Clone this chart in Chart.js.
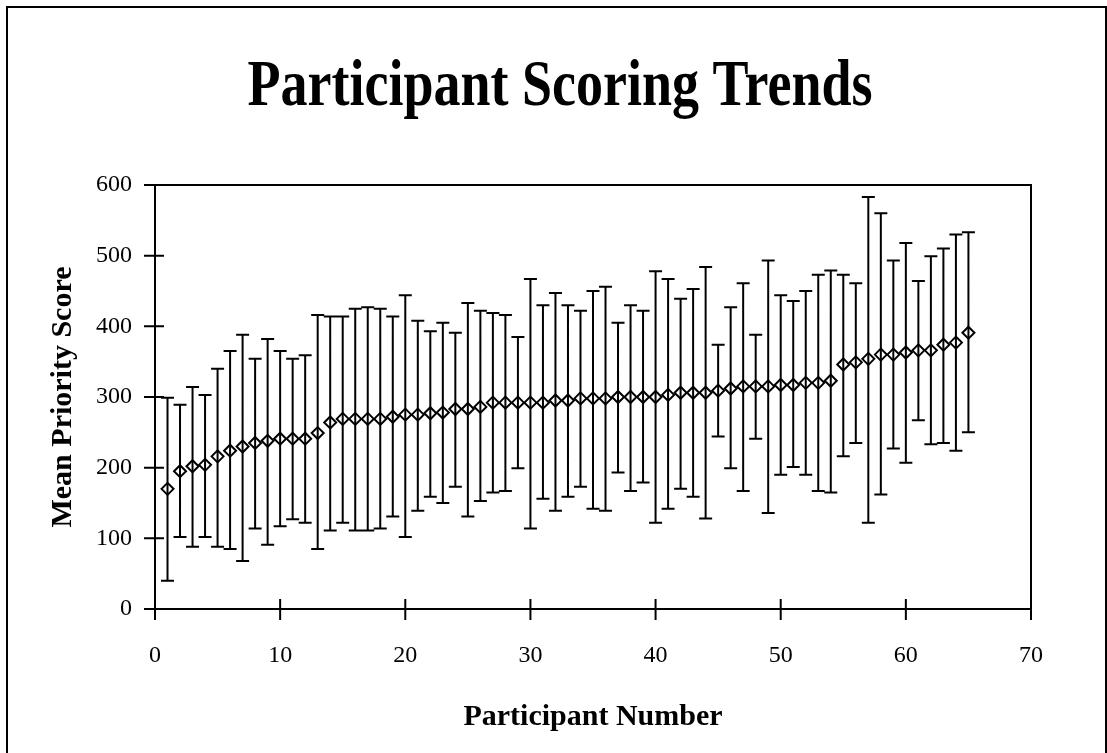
<!DOCTYPE html>
<html>
<head>
<meta charset="utf-8">
<script src="https://cdn.jsdelivr.net/npm/chart.js@4/dist/chart.umd.min.js"></script>
<style>
  html, body { margin: 0; padding: 0; background: #fff; }
  canvas { display: block; }
</style>
</head>
<body>
<canvas id="chart" width="1107" height="753"></canvas>
<script>
// Participant numbers and their mean priority score with the spread shown as error bars
const participants = [
  1, 2, 3, 4, 5, 6, 7, 8, 9, 10,
  11, 12, 13, 14, 15, 16, 17, 18, 19, 20,
  21, 22, 23, 24, 25, 26, 27, 28, 29, 30,
  31, 32, 33, 34, 35, 36, 37, 38, 39, 40,
  41, 42, 43, 44, 45, 46, 47, 48, 49, 50,
  51, 52, 53, 54, 55, 56, 57, 58, 59, 60,
  61, 62, 63, 64, 65
];
const meanScores = [
  170, 195, 202, 204, 216, 224, 230, 235, 238, 241,
  241, 241, 249, 264, 269, 269, 269, 269, 272, 275,
  275, 277, 278, 283, 283, 286, 292, 292, 292, 292,
  292, 295, 295, 298, 298, 298, 300, 300, 300, 300,
  303, 306, 306, 306, 309, 312, 315, 315, 315, 317,
  317, 320, 320, 323, 346, 349, 354, 360, 360, 363,
  366, 366, 374, 377, 391
];
const upperScores = [
  299, 289, 314, 303, 340, 365, 388, 354, 382, 365,
  354, 359, 416, 414, 414, 425, 427, 425, 414, 444,
  408, 393, 405, 391, 433, 422, 419, 416, 385, 467,
  430, 447, 430, 422, 450, 456, 405, 430, 422, 478,
  467, 439, 453, 484, 374, 427, 461, 388, 493, 444,
  436, 450, 473, 479, 473, 461, 583, 560, 493, 518,
  464, 499, 510, 530, 533
];
const lowerScores = [
  40, 102, 88, 102, 88, 85, 68, 114, 91, 117,
  127, 122, 85, 111, 122, 111, 111, 114, 131, 102,
  139, 159, 150, 173, 131, 153, 165, 167, 199, 114,
  156, 139, 159, 173, 142, 139, 193, 167, 179, 122,
  142, 170, 159, 128, 244, 199, 167, 241, 136, 190,
  201, 190, 167, 165, 216, 235, 122, 162, 227, 207,
  267, 233, 235, 224, 250
];
const xTickValues = [0, 10, 20, 30, 40, 50, 60, 70];
const yTickValues = [0, 100, 200, 300, 400, 500, 600];

const chartTitle = 'Participant Scoring Trends';
const xAxisTitle = 'Participant Number';
const yAxisTitle = 'Mean Priority Score';

const SERIF = "'Liberation Serif', 'Times New Roman', Times, serif";

// Vertical range bars with end caps, drawn beneath the diamond markers
const errorBarsPlugin = {
  id: 'errorBars',
  beforeDatasetsDraw(chart) {
    const { ctx, scales: { x, y } } = chart;
    const cap = 6.5;
    ctx.save();
    ctx.strokeStyle = '#000';
    ctx.lineWidth = 2;
    ctx.beginPath();
    participants.forEach((p, i) => {
      const px = x.getPixelForValue(p);
      const top = y.getPixelForValue(upperScores[i]);
      const bottom = y.getPixelForValue(lowerScores[i]);
      ctx.moveTo(px, top);
      ctx.lineTo(px, bottom);
      ctx.moveTo(px - cap, top);
      ctx.lineTo(px + cap, top);
      ctx.moveTo(px - cap, bottom);
      ctx.lineTo(px + cap, bottom);
    });
    ctx.stroke();
    ctx.restore();
  }
};

// Plot box, crossing tick marks, outer frame and the heading
const framePlugin = {
  id: 'frame',
  afterDraw(chart) {
    const { ctx, chartArea: a, scales: { x, y } } = chart;
    ctx.save();
    ctx.strokeStyle = '#000';
    ctx.lineWidth = 2;
    ctx.strokeRect(a.left, a.top, a.right - a.left, a.bottom - a.top);
    ctx.beginPath();
    xTickValues.forEach(v => {
      const px = x.getPixelForValue(v);
      ctx.moveTo(px, a.bottom - 10);
      ctx.lineTo(px, a.bottom + 11);
    });
    yTickValues.forEach(v => {
      const py = y.getPixelForValue(v);
      ctx.moveTo(a.left - 11, py);
      ctx.lineTo(a.left + 9, py);
    });
    ctx.stroke();
    ctx.strokeRect(7, 7, 1099, 800);

    ctx.fillStyle = '#000';
    ctx.font = 'bold 54px ' + SERIF;
    ctx.textAlign = 'center';
    ctx.textBaseline = 'alphabetic';
    ctx.translate(560, 105);
    ctx.scale(1, 1.2);
    ctx.fillText(chartTitle, 0, 0);
    ctx.restore();
  }
};

new Chart(document.getElementById('chart'), {
  type: 'scatter',
  data: {
    datasets: [{
      label: yAxisTitle,
      data: participants.map((p, i) => ({ x: p, y: meanScores[i] })),
      pointStyle: 'rectRot',
      pointRadius: 6,
      pointHoverRadius: 6,
      borderColor: '#000',
      backgroundColor: 'rgba(255,255,255,0)',
      pointBorderWidth: 2,
      showLine: false
    }]
  },
  options: {
    responsive: false,
    animation: false,
    devicePixelRatio: 1,
    layout: { padding: { top: 185, right: 76, bottom: 0, left: 0 } },
    plugins: {
      legend: { display: false },
      tooltip: { enabled: false },
      title: { display: false }
    },
    scales: {
      x: {
        type: 'linear',
        min: 0,
        max: 70,
        afterBuildTicks(scale) { scale.ticks = xTickValues.map(v => ({ value: v })); },
        afterFit(scale) { scale.height = 144; },
        grid: { display: false, drawTicks: false },
        border: { display: false },
        ticks: {
          color: '#000',
          padding: 32,
          font: { family: SERIF, size: 24 }
        },
        title: {
          display: true,
          text: xAxisTitle,
          color: '#000',
          font: { family: SERIF, size: 30, weight: 'bold' },
          padding: { top: 0, bottom: 18 }
        }
      },
      y: {
        type: 'linear',
        min: 0,
        max: 600,
        afterBuildTicks(scale) { scale.ticks = yTickValues.map(v => ({ value: v })); },
        afterFit(scale) { scale.width = 155; },
        grid: { display: false, drawTicks: false },
        border: { display: false },
        ticks: {
          color: '#000',
          padding: 23,
          font: { family: SERIF, size: 24 }
        },
        title: {
          display: true,
          text: yAxisTitle,
          color: '#000',
          font: { family: SERIF, size: 30, weight: 'bold' },
          padding: { top: 45, bottom: 0 }
        }
      }
    }
  },
  plugins: [errorBarsPlugin, framePlugin]
});
</script>
</body>
</html>
